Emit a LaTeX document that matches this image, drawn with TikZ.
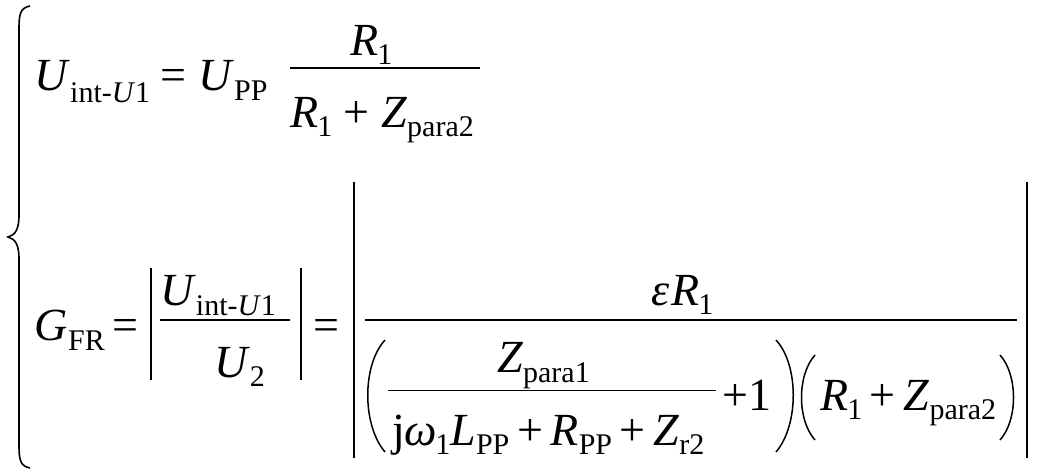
\documentclass[tikz,border=0pt]{standalone}
\usepackage{fontspec}
\setmainfont{Liberation Serif}
\newcommand\sbs[1]{\textnormal{\fontsize{30}{30}\selectfont\raisebox{-9pt}{#1}}}
\begin{document}
\begin{tikzpicture}[x=1pt,y=-1pt,
  t/.style={anchor=base west,inner sep=0pt,font=\fontsize{46}{46}\selectfont},
  s/.style={anchor=base west,inner sep=0pt,font=\fontsize{30}{30}\selectfont},
  bar/.style={line width=1.3pt},
  absbar/.style={line width=1.6pt},
  paren/.style={line width=1.5pt}]
\useasboundingbox (0,0) rectangle (1040,472);
% brace
\draw[line width=1.6pt] (30,6) .. controls (20,8) and (19,14) .. (19,30) -- (19,215) .. controls (19,230) and (15,235) .. (8,237)
  .. controls (15,239) and (19,244) .. (19,259) -- (19,444) .. controls (19,460) and (20,466) .. (30,468);
% line 1
\node[t] (u1) at (34,90) {\itshape U};
\node[s] (u1s) at (70,102) {int-\textit{U}1};
\node[t] (eq1) at (160,90) {=};
\node[t] (upp) at (198,90) {\itshape U};
\node[s] (upps) at (234,100) {PP};
\node[t] (r1n) at (350,55) {\itshape R\kern-1pt\sbs{1}};
\draw[bar] (290,68) -- (480,68);
\node[t] (den1) at (290,127) {\itshape R\kern-1pt\sbs{1} \textnormal{+} Z\sbs{para2}};
% line 2
\node[t] (g) at (34,340) {\itshape G};
\node[s] (gs) at (68,350) {FR};
\node[t] (eq2) at (112,340) {=};
\draw[absbar] (151,268) -- (151,380);
\node[t] (un) at (160,305) {\itshape U\textnormal{\fontsize{30}{30}\selectfont\raisebox{-10pt}{int-\textit{U}1}}};
\draw[bar] (160,320) -- (290,320);
\node[t] (u2) at (214,377) {\itshape U\sbs{2}};
\draw[absbar] (301,268) -- (301,380);
\node[t] (eq3) at (313,340) {=};
\draw[absbar] (354,182) -- (354,458);
\draw[absbar] (1027,182) -- (1027,458);
\node[t] (epsr) at (651,305) {\itshape ε\kern2pt R\kern-1pt\sbs{1}};
\draw[bar] (365,320) -- (1017,320);
\draw[paren] (385,340) .. controls (362,365) and (362,425) .. (385,452);
\node[t] (zp1) at (497,372) {\itshape Z\textnormal{\fontsize{30}{30}\selectfont\raisebox{-10pt}{para1}}};
\draw[line width=1pt] (388,390) -- (716,390);
\node[t] (dd) at (392,445) {j\itshape ω\kern-2pt\sbs{1}L\sbs{PP}\,\textnormal{+}\,R\sbs{PP}\,\textnormal{+}\,Z\sbs{r2}};
\node[t] (p1) at (722,410) {+1};
\draw[paren] (776,340) .. controls (799,365) and (799,425) .. (776,452);
\draw[paren] (815,355) .. controls (797,375) and (797,420) .. (815,440);
\node[t] (den2) at (820,410) {\itshape R\kern-1pt\sbs{1}\,\textnormal{+}\,Z\sbs{para2}};
\draw[paren] (1000,355) .. controls (1018,375) and (1018,420) .. (1000,440);
\end{tikzpicture}
\end{document}
